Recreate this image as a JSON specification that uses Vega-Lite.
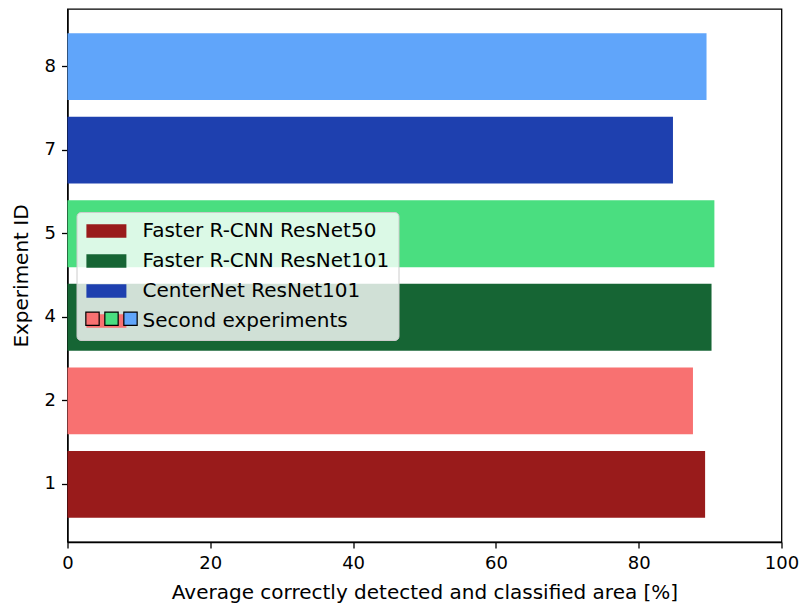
{
  "$schema": "https://vega.github.io/schema/vega-lite/v6.json",
  "width": 714,
  "height": 533,
  "autosize": "none",
  "padding": {"left": 67.5, "top": 9, "right": 21.5, "bottom": 64},
  "background": "white",
  "config": {
    "font": "DejaVu Sans",
    "view": {"stroke": "black", "strokeWidth": 1.3},
    "axis": {
      "domainColor": "black", "domainWidth": 1.3,
      "tickColor": "black", "tickWidth": 1.3, "tickSize": 6,
      "labelColor": "black", "labelFontSize": 18, "labelFont": "DejaVu Sans",
      "titleFontSize": 20, "titleFontWeight": "normal", "titleColor": "black", "titleFont": "DejaVu Sans",
      "grid": false
    }
  },
  "data": {"values": [
    {"id": "1", "area": 89.3},
    {"id": "2", "area": 87.6},
    {"id": "4", "area": 90.2},
    {"id": "5", "area": 90.6},
    {"id": "7", "area": 84.8},
    {"id": "8", "area": 89.5}
  ]},
  "encoding": {
    "y": {
      "field": "id", "type": "nominal",
      "sort": ["8", "7", "5", "4", "2", "1"],
      "scale": {"paddingInner": 0.2, "paddingOuter": 0.29},
      "axis": {"title": "Experiment ID", "labelAngle": 0, "labelPadding": 6, "titlePadding": 13}
    },
    "x": {
      "field": "area", "type": "quantitative",
      "scale": {"domain": [0, 100], "nice": false},
      "axis": {"title": "Average correctly detected and classified area [%]", "values": [0, 20, 40, 60, 80, 100], "labelPadding": 6, "titlePadding": 10, "labelFlush": false}
    }
  },
  "layer": [
    {
      "mark": {"type": "bar"},
      "encoding": {
        "color": {
          "field": "id", "type": "nominal",
          "scale": {"domain": ["1", "2", "4", "5", "7", "8"], "range": ["#991b1b", "#f87171", "#166534", "#4ade80", "#1e40af", "#60a5fa"]},
          "legend": {
            "title": null,
            "orient": "none",
            "direction": "vertical",
            "legendX": 9,
            "legendY": 203,
            "values": ["1", "4", "7", "2"],
            "labelExpr": "datum.label === '1' ? 'Faster R-CNN ResNet50' : datum.label === '4' ? 'Faster R-CNN ResNet101' : datum.label === '7' ? 'CenterNet ResNet101' : 'Second experiments'",
            "symbolType": "M-1.3,-0.95L4.414,-0.95L4.414,0.95L-1.3,0.95Z",
            "symbolSize": 196,
            "symbolStrokeWidth": 0,
            "symbolOpacity": 1,
            "labelFontSize": 20,
            "labelFont": "DejaVu Sans",
            "labelColor": "black",
            "labelLimit": 400,
            "labelOffset": 37,
            "rowPadding": 10,
            "padding": 9,
            "fillColor": "rgba(255,255,255,0.8)",
            "strokeColor": "#cccccc",
            "cornerRadius": 4,
            "encode": {
              "symbols": {
                "update": {
                  "fill": {"signal": "datum.value === '2' ? 'transparent' : scale('color', datum.value)"},
                  "stroke": {"value": "transparent"},
                  "opacity": {"value": 1}
                }
              }
            }
          }
        }
      }
    },
    {
      "mark": {"type": "point", "filled": true, "opacity": 0},
      "encoding": {
        "fill": {
          "field": "id", "type": "nominal",
          "scale": {"domain": ["2", "5", "8"], "range": ["#f87171", "#4ade80", "#60a5fa"]},
          "legend": {
            "title": null,
            "orient": "none",
            "direction": "horizontal",
            "legendX": 19.5,
            "legendY": 304,
            "values": ["2", "5", "8"],
            "labelExpr": "''",
            "labelFontSize": 1,
            "labelLimit": 1,
            "labelOffset": 0,
            "columnPadding": 0,
            "padding": 0,
            "symbolType": "M-1.39,-1.39L1.39,-1.39L1.39,1.39L-1.39,1.39Z",
            "symbolSize": 92,
            "symbolStrokeColor": "black",
            "symbolStrokeWidth": 1.2,
            "symbolOpacity": 1,
            "encode": {
              "symbols": {
                "update": {
                  "fill": {"signal": "scale('fill', datum.value)"},
                  "stroke": {"value": "black"},
                  "strokeWidth": {"value": 1.2},
                  "opacity": {"value": 1}
                }
              }
            }
          }
        }
      }
    }
  ]
}
